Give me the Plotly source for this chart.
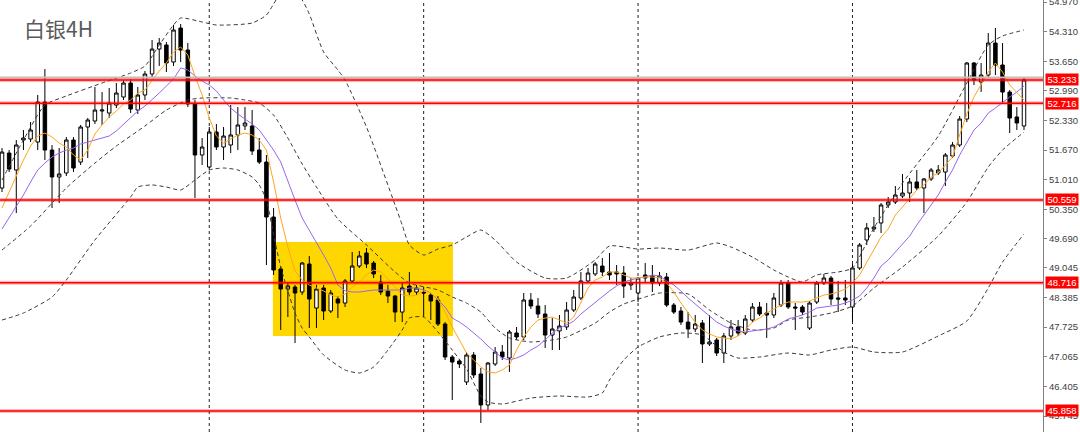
import plotly.graph_objects as go

title_text = "白银4H"

bars = list(range(144))

opens = [50.826, 51.605, 51.227, 51.895, 51.917, 51.850, 52.741, 51.672, 51.071, 51.160,
         51.895, 51.404, 52.185, 52.319, 52.541, 52.496, 52.675, 52.853, 53.165, 52.563,
         52.898, 53.366, 53.922, 54.012, 53.633, 54.391, 53.900, 52.697, 51.561, 51.293,
         52.073, 51.739, 51.784, 52.007, 52.208, 52.208, 51.672, 51.404, 50.179, 49.021,
         48.575, 48.620, 48.508, 49.132, 48.151, 48.597, 48.085, 48.352, 48.263, 48.754,
         49.087, 49.377, 49.154, 48.731, 48.530, 48.419, 48.062, 48.642, 48.508, 48.508,
         48.442, 48.330, 47.795, 47.060, 46.971, 46.503, 47.105, 46.682, 45.991, 46.904,
         47.171, 47.038, 47.595, 47.506, 48.330, 48.196, 48.018, 47.550, 47.640, 47.729,
         48.107, 48.375, 48.754, 48.910, 49.087, 48.954, 48.954, 48.932, 48.665, 48.486,
         48.888, 48.865, 48.709, 48.843, 48.218, 48.085, 47.839, 47.684, 47.817, 47.350,
         47.439, 47.149, 47.528, 47.729, 47.595, 47.884, 48.174, 48.040, 47.996, 48.218,
         48.709, 48.174, 48.174, 47.706, 48.286, 48.709, 48.820, 48.375, 48.375, 48.174,
         49.043, 49.667, 49.913, 50.046, 50.447, 50.514, 50.647, 50.714, 50.960, 50.826,
         51.027, 51.160, 51.182, 51.539, 51.784, 52.363, 53.611, 53.188, 53.343, 54.056,
         53.566, 52.964, 52.408, 52.208]

highs = [51.717, 51.672, 51.895, 52.118, 52.296, 52.898, 53.477, 51.784, 51.717, 51.962,
         51.962, 52.230, 52.385, 53.076, 52.964, 53.054, 53.165, 53.232, 53.254, 53.076,
         53.433, 54.123, 54.168, 54.078, 54.458, 54.480, 54.056, 52.786, 51.940, 52.185,
         52.252, 52.185, 52.675, 52.630, 52.630, 52.563, 51.940, 51.561, 50.380, 49.087,
         48.731, 48.665, 49.176, 49.310, 48.665, 48.665, 48.553, 48.419, 48.798, 49.399,
         49.422, 49.489, 49.199, 48.888, 48.665, 48.442, 48.731, 48.954, 48.665, 48.620,
         48.486, 48.419, 47.839, 47.105, 47.015, 47.171, 47.171, 46.815, 46.948, 47.283,
         47.328, 47.662, 47.729, 48.486, 48.486, 48.375, 48.218, 47.929, 47.996, 48.286,
         48.553, 48.954, 49.043, 49.176, 49.266, 49.377, 49.110, 49.087, 48.820, 48.843,
         49.154, 49.110, 48.954, 48.932, 48.263, 48.174, 48.062, 47.996, 47.884, 47.996,
         47.484, 47.595, 47.884, 47.884, 47.996, 48.263, 48.286, 48.263, 48.486, 48.776,
         48.776, 48.263, 48.218, 48.308, 48.754, 48.910, 48.865, 48.754, 48.776, 49.132,
         49.600, 50.046, 50.180, 50.491, 50.625, 50.870, 51.138, 51.049, 51.227, 51.049,
         51.271, 51.338, 51.605, 51.850, 52.430, 53.633, 53.633, 53.611, 54.279, 54.391,
         54.056, 53.009, 52.630, 53.299]

lows = [50.736, 51.182, 50.268, 51.672, 51.850, 51.672, 51.449, 50.380, 50.491, 51.093,
        51.182, 51.338, 51.494, 52.252, 52.230, 52.385, 52.608, 52.786, 52.496, 52.474,
        52.786, 53.277, 53.544, 53.410, 53.544, 53.633, 52.630, 50.603, 51.338, 51.227,
        51.672, 51.449, 51.605, 51.672, 52.118, 51.561, 51.360, 49.110, 48.888, 47.662,
        47.951, 47.372, 48.442, 47.706, 47.706, 47.884, 48.040, 47.929, 48.174, 48.709,
        49.043, 49.043, 48.820, 48.442, 48.263, 47.839, 47.839, 48.442, 48.442, 47.951,
        47.884, 47.751, 46.993, 46.102, 46.815, 46.436, 46.593, 45.590, 45.879, 46.860,
        46.993, 46.726, 47.439, 47.439, 48.129, 47.929, 47.261, 47.216, 47.216, 47.662,
        48.062, 48.330, 48.709, 48.865, 48.865, 48.776, 48.665, 48.375, 48.553, 48.286,
        48.731, 48.508, 48.642, 48.174, 48.018, 47.773, 47.484, 47.617, 46.926, 47.305,
        47.082, 46.926, 47.439, 47.528, 47.550, 47.839, 47.973, 47.484, 47.929, 48.174,
        48.129, 47.662, 47.996, 47.662, 48.241, 48.665, 48.218, 48.062, 48.218, 47.839,
        48.999, 49.556, 49.846, 49.823, 50.380, 50.469, 50.603, 50.514, 50.781, 50.268,
        50.982, 51.115, 50.870, 51.494, 51.739, 52.296, 53.121, 52.965, 53.299, 53.343,
        52.719, 52.051, 52.118, 52.118]

closes = [51.627, 51.248, 51.784, 51.940, 52.118, 52.741, 51.672, 51.071, 51.138, 51.895,
          51.271, 52.185, 52.341, 52.563, 52.563, 52.719, 52.942, 53.165, 52.585, 52.898,
          53.366, 53.922, 54.056, 53.611, 54.346, 53.900, 52.697, 51.561, 51.739, 52.073,
          51.739, 51.984, 52.007, 52.230, 52.274, 51.650, 51.404, 50.179, 48.999, 48.575,
          48.642, 48.486, 49.154, 48.352, 48.575, 48.085, 48.486, 48.263, 48.754, 49.087,
          49.310, 49.132, 48.910, 48.508, 48.419, 48.062, 48.598, 48.508, 48.598, 48.486,
          48.308, 47.795, 47.060, 46.948, 46.904, 47.105, 46.660, 45.991, 46.926, 47.171,
          47.060, 47.617, 47.506, 48.330, 48.196, 48.018, 47.550, 47.684, 47.751, 48.107,
          48.397, 48.754, 48.932, 49.132, 48.954, 48.888, 48.910, 48.642, 48.709, 48.820,
          48.820, 48.709, 48.865, 48.218, 48.062, 47.839, 47.684, 47.795, 47.350, 47.395,
          47.149, 47.528, 47.729, 47.595, 47.906, 48.174, 48.018, 47.996, 48.375, 48.709,
          48.174, 48.151, 48.062, 48.263, 48.709, 48.820, 48.352, 48.352, 48.330, 49.043,
          49.556, 49.935, 49.957, 50.447, 50.514, 50.670, 50.714, 50.960, 50.826, 51.027,
          51.227, 51.227, 51.561, 51.784, 52.363, 53.611, 53.232, 53.343, 54.056, 53.566,
          52.964, 52.385, 52.274, 53.233]

ma_fast = [50.380, 50.736, 51.071, 51.449, 51.761, 51.984, 52.051, 51.962, 51.828, 51.739,
           51.561, 51.449, 51.672, 52.029, 52.230, 52.407, 52.541, 52.697, 52.786, 52.942,
           53.009, 53.232, 53.433, 53.611, 53.855, 53.967, 53.789, 53.321, 52.898, 52.385,
           51.984, 51.828, 51.917, 52.007, 52.051, 52.007, 51.895, 51.672, 50.959, 50.157,
           49.511, 48.977, 48.776, 48.665, 48.598, 48.531, 48.442, 48.397, 48.464, 48.620,
           48.731, 48.888, 48.999, 48.954, 48.798, 48.620, 48.442, 48.419, 48.442, 48.531,
           48.486, 48.352, 48.062, 47.728, 47.439, 47.149, 46.993, 46.837, 46.726, 46.704,
           46.771, 46.882, 47.216, 47.506, 47.728, 47.884, 47.929, 47.951, 47.884, 47.817,
           47.951, 48.263, 48.598, 48.776, 48.843, 48.954, 48.954, 48.888, 48.821, 48.821,
           48.843, 48.843, 48.821, 48.709, 48.508, 48.263, 48.040, 47.839, 47.662, 47.573,
           47.506, 47.484, 47.462, 47.528, 47.662, 47.839, 47.929, 48.040, 48.129, 48.218,
           48.286, 48.286, 48.286, 48.308, 48.375, 48.442, 48.464, 48.508, 48.575, 48.709,
           48.888, 49.176, 49.444, 49.734, 49.912, 50.224, 50.402, 50.603, 50.781, 50.893,
           51.071, 51.160, 51.338, 51.516, 52.007, 52.474, 52.853, 53.121, 53.410, 53.611,
           53.410, 53.121, 52.942, 52.786]

ma_slow = [49.912, 50.157, 50.402, 50.670, 50.959, 51.227, 51.382, 51.516, 51.605, 51.672,
           51.717, 51.806, 51.850, 51.895, 51.940, 51.984, 52.096, 52.252, 52.385, 52.541,
           52.652, 52.786, 52.942, 53.098, 53.254, 53.500, 53.455, 53.321, 53.210, 53.121,
           52.987, 52.786, 52.608, 52.474, 52.363, 52.252, 52.118, 51.895, 51.672, 51.404,
           50.959, 50.558, 50.157, 49.890, 49.622, 49.333, 49.043, 48.665, 48.531, 48.508,
           48.508, 48.531, 48.553, 48.553, 48.553, 48.553, 48.553, 48.598, 48.598, 48.553,
           48.486, 48.330, 48.174, 47.929, 47.839, 47.728, 47.595, 47.462, 47.305, 47.171,
           47.038, 46.993, 47.038, 47.105, 47.216, 47.305, 47.439, 47.595, 47.706, 47.773,
           47.862, 48.018, 48.151, 48.286, 48.419, 48.531, 48.642, 48.731, 48.776, 48.821,
           48.843, 48.888, 48.865, 48.754, 48.665, 48.531, 48.375, 48.241, 48.107, 47.973,
           47.839, 47.751, 47.684, 47.640, 47.617, 47.640, 47.662, 47.684, 47.728, 47.817,
           47.906, 47.951, 47.996, 48.062, 48.151, 48.174, 48.196, 48.218, 48.263, 48.330,
           48.419, 48.598, 48.821, 49.087, 49.221, 49.399, 49.600, 49.756, 50.001, 50.224,
           50.469, 50.670, 50.959, 51.227, 51.561, 51.850, 52.118, 52.274, 52.496, 52.608,
           52.741, 52.853, 52.964, 53.098]

bb_mid_x = [0, 4, 9, 13, 16, 20, 23, 26, 28, 32, 34, 36, 38, 40, 42, 44, 47, 51, 55, 57,
            61, 63, 65, 67, 69, 71, 74, 77, 79, 83, 85, 87, 90, 92, 96, 99, 102, 105, 108, 110,
            113, 116, 119, 122, 126, 131, 135, 138, 140, 143]
bb_mid = [49.444, 49.979, 50.826, 51.382, 51.761, 52.207, 52.563, 52.786, 52.831, 52.831,
          52.786, 52.719, 52.452, 51.940, 51.360, 50.848, 50.135, 49.556, 48.954, 48.709,
          48.553, 48.397, 48.263, 48.062, 47.706, 47.484, 47.395, 47.439, 47.506, 47.817,
          48.062, 48.241, 48.397, 48.486, 48.464, 48.107, 47.817, 47.662, 47.706, 47.884,
          47.951, 48.040, 48.196, 48.598, 49.065, 49.756, 50.514, 51.293, 51.672, 52.073]

bb_up_x = [0, 3, 6, 9, 14, 18, 20, 22, 24, 25, 28, 30, 35, 37, 38, 39, 40, 41, 42, 43,
           45, 47, 48, 51, 55, 56, 57, 59, 61, 63, 65, 67, 69, 72, 76, 79, 83, 85, 89, 92,
           96, 100, 102, 105, 108, 110, 112, 114, 117, 119, 122, 126, 131, 135, 138, 140, 143]
bb_up = [51.004, 51.895, 52.675, 52.876, 53.165, 53.388, 53.544, 54.012, 54.458, 54.614,
         54.525, 54.458, 54.502, 54.680, 54.925, 55.171, 55.215, 55.171, 55.015, 54.703,
         53.856, 53.455, 53.232, 52.185, 50.447, 50.001, 49.556, 49.333, 49.466, 49.556,
         49.734, 49.890, 49.667, 49.177, 48.820, 48.820, 49.221, 49.533, 49.466, 49.489,
         49.444, 49.600, 49.511, 49.288, 48.999, 48.843, 48.731, 48.888, 48.954, 49.043,
         49.935, 50.937, 51.984, 53.165, 54.012, 54.213, 54.346]

bb_low_x = [0, 3, 7, 9, 13, 18, 19, 21, 23, 25, 27, 29, 31, 33, 35, 36, 37, 38, 39, 40,
            41, 42, 43, 45, 48, 50, 52, 54, 56, 57, 59, 61, 63, 65, 67, 68, 70, 74, 78, 82,
            84, 85, 87, 89, 92, 95, 98, 101, 103, 106, 110, 113, 116, 119, 122, 126, 131, 135, 138, 140,
            143]
bb_low = [47.884, 48.040, 48.397, 48.776, 49.667, 50.625, 50.848, 50.893, 50.848, 50.781,
          51.004, 51.227, 51.271, 51.227, 51.071, 50.893, 50.558, 49.779, 49.065, 48.531,
          48.040, 47.706, 47.506, 47.105, 46.771, 46.704, 46.837, 47.216, 47.662, 47.929,
          47.951, 47.617, 47.216, 46.793, 46.191, 46.057, 46.013, 46.146, 46.191, 46.169,
          46.258, 46.548, 46.993, 47.283, 47.506, 47.595, 47.550, 47.171, 47.038, 47.060,
          47.149, 47.105, 47.216, 47.283, 47.171, 47.171, 47.528, 47.862, 48.598, 49.176,
          49.801]

levels = [53.233, 52.716, 50.559, 48.716, 45.858]
bid_price = 53.29
y_ticks = [54.970, 54.310, 53.650, 52.990, 52.330, 51.670, 51.010, 50.350,
           49.690, 49.045, 48.385, 47.725, 47.065, 46.405, 45.745]
week_starts = [29, 59, 89, 119]
zone_bars = [37.9, 63.1]
zone_prices = [47.528, 49.622]

fig = go.Figure()

fig.add_trace(go.Candlestick(
    x=bars, open=opens, high=highs, low=lows, close=closes,
    increasing=dict(line=dict(color="#000000", width=1), fillcolor="#ffffff"),
    decreasing=dict(line=dict(color="#000000", width=1), fillcolor="#000000"),
    whiskerwidth=0, showlegend=False, hoverinfo="skip"))

dash_style = dict(color="#3a3a3a", width=1, dash="4px,3px")
for xs, ys in [(bb_up_x, bb_up), (bb_mid_x, bb_mid), (bb_low_x, bb_low)]:
    fig.add_trace(go.Scatter(x=xs, y=ys, mode="lines",
                             line=dict(shape="spline", smoothing=0.6, **dash_style),
                             showlegend=False, hoverinfo="skip"))

fig.add_trace(go.Scatter(x=bars, y=ma_slow, mode="lines",
                         line=dict(color="#9966ee", width=1),
                         showlegend=False, hoverinfo="skip"))
fig.add_trace(go.Scatter(x=bars, y=ma_fast, mode="lines",
                         line=dict(color="#ffa520", width=1),
                         showlegend=False, hoverinfo="skip"))

shapes = []
shapes.append(dict(type="rect", xref="x", yref="y", x0=zone_bars[0], x1=zone_bars[1],
                   y0=zone_prices[0], y1=zone_prices[1], fillcolor="#ffd700",
                   line=dict(width=0), layer="below"))
for wb in week_starts:
    shapes.append(dict(type="line", xref="x", yref="paper", x0=wb, x1=wb, y0=0, y1=1,
                       line=dict(color="#222222", width=1, dash="3px,3px"), layer="below"))
shapes.append(dict(type="line", xref="paper", yref="y", x0=0, x1=1, y0=bid_price, y1=bid_price,
                   line=dict(color="#c0c0c0", width=2), layer="above"))
for lv in levels:
    shapes.append(dict(type="line", xref="paper", yref="y", x0=0, x1=1, y0=lv, y1=lv,
                       line=dict(color="rgba(255,0,0,0.28)", width=4), layer="above"))
    shapes.append(dict(type="line", xref="paper", yref="y", x0=0, x1=1, y0=lv, y1=lv,
                       line=dict(color="#ff0000", width=1.6), layer="above"))

annotations = []
annotations.append(dict(text=title_text, xref="paper", yref="paper", x=0.021, y=0.935,
                        xanchor="left", yanchor="middle", showarrow=False,
                        font=dict(family="Noto Sans CJK SC", size=21, color="#5a5a5a")))
for lv in levels:
    annotations.append(dict(text=f"{lv:.3f}", xref="paper", yref="y", x=1.0019, y=lv,
                            xanchor="left", yanchor="middle", showarrow=False,
                            bgcolor="#ff0000", borderpad=0, width=32, height=11,
                            align="center",
                            font=dict(family="Liberation Sans", size=9.5, color="#ffffff")))

fig.update_layout(
    width=1080, height=432,
    margin=dict(l=0, r=37, t=0, b=0, autoexpand=False),
    paper_bgcolor="#ffffff", plot_bgcolor="#ffffff",
    showlegend=False,
    shapes=shapes, annotations=annotations,
    xaxis=dict(range=[-0.28, 145.66], visible=False, rangeslider=dict(visible=False),
               showgrid=False, zeroline=False, automargin=False),
    yaxis=dict(range=[45.389, 55.015], side="right", tickvals=y_ticks,
               ticktext=[f"{v:.3f}" for v in y_ticks], showgrid=False, zeroline=False,
               showline=True, linecolor="#808080", linewidth=1, ticks="outside",
               ticklen=3, tickcolor="#808080", ticklabeloverflow="allow",
               automargin=False,
               tickfont=dict(family="Liberation Sans", size=9.5, color="#404040")),
)

fig.write_html("out.html", config={"displayModeBar": False},
               post_script="document.body.style.margin='0';document.body.style.padding='0';document.body.style.overflow='hidden';")
